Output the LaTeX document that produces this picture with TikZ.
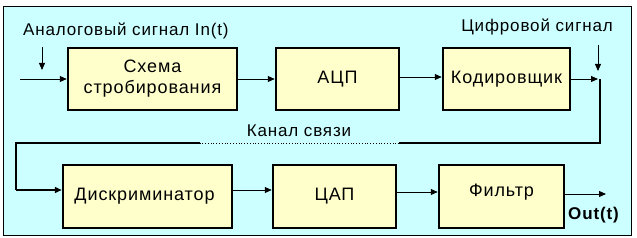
\documentclass[tikz,border=0pt]{standalone}
\usepackage{fontspec}
\setmainfont[LetterSpace=5]{Liberation Sans}
\usetikzlibrary{arrows.meta}
\definecolor{bgc}{HTML}{CCFFFF}
\definecolor{boxc}{HTML}{FFFFCC}
\tikzset{
  blk/.style={draw=black, line width=2.5pt, fill=boxc, inner sep=0pt, font=\fontsize{18}{21}\selectfont, align=center},
  arr/.style={-{Triangle[length=7pt,width=6pt]}, line width=0.9pt},
  lbl/.style={font=\fontsize{17}{19}\selectfont, inner sep=0pt}
}
\begin{document}
\begin{tikzpicture}[x=1pt,y=-1pt]
\useasboundingbox (0,0) rectangle (637,238);
\fill[white] (0,0) rectangle (637,238);
\draw[fill=bgc, line width=0.8pt] (3,6) rectangle (631,235);
% row 1
\node[blk, minimum width=169pt, minimum height=62pt] (s) at (152.5,79) {Схема\\стробирования};
\node[blk, minimum width=123pt, minimum height=62pt] (a) at (337.5,79) {АЦП};
\node[blk, minimum width=127pt, minimum height=62pt] (k) at (506.5,79) {Кодировщик};
% row 2
\node[blk, minimum width=169pt, minimum height=63pt] (d) at (147.5,196.5) {};
\node[font=\fontsize{18}{21}\selectfont, inner sep=0pt] (dt) at (144.5,196.5) {Дискриминатор};
\node[blk, minimum width=123pt, minimum height=63pt] (c) at (334.5,196.5) {ЦАП};
\node[blk, minimum width=125pt, minimum height=63pt] (f) at (501.5,196.5) {};
\node[font=\fontsize{18}{21}\selectfont, inner sep=0pt] (ft) at (501.5,192) {Фильтр};
% labels
\node[lbl, anchor=west] (la) at (23,31) {Аналоговый сигнал In(t)};
\node[lbl, anchor=east] (ld) at (613,27) {Цифровой сигнал};
\node[lbl] (lk) at (299,131) {Канал связи};
\node[lbl, anchor=west, font=\fontsize{17}{19}\selectfont\bfseries] (lo) at (568,215) {Out(t)};
% coordinates
\coordinate (in0) at (20,79);
\coordinate (inD0) at (42,47);
\coordinate (inD1) at (42,70);
\coordinate (k1) at (598,79);
\coordinate (dD0) at (598,45);
\coordinate (dD1) at (598,71);
\coordinate (v0) at (600,79);
\coordinate (v1) at (600,143);
\coordinate (h1) at (399,143);
\coordinate (h2) at (200,143);
\coordinate (h3) at (16,143);
\coordinate (h4) at (16,190);
\coordinate (o1) at (606,194);
% connectors
\draw[arr] (in0) -- (s.west |- in0);
\draw[arr] (inD0) -- (inD1);
\draw[arr] (s.east |- 0,79) -- (a.west |- 0,79);
\draw[arr] (a.east |- 0,77) -- (k.west |- 0,77);
\draw[arr] (k.east |- k1) -- (k1);
\draw[arr] (dD0) -- (dD1);
\draw[line width=1.5pt] (v0) -- (v1) -- (h1);
\draw[line width=0.8pt, dotted] (h1) -- (h2);
\draw[line width=1.5pt, line join=miter] (h2) -- (h3) -- (h4);
\draw[arr, line width=1.5pt] (h4) -- (d.west |- h4);
\draw[arr] (d.east |- 0,190) -- (c.west |- 0,190);
\draw[arr] (c.east |- 0,192) -- (f.west |- 0,192);
\draw[arr] (f.east |- o1) -- (o1);
\end{tikzpicture}
\end{document}
